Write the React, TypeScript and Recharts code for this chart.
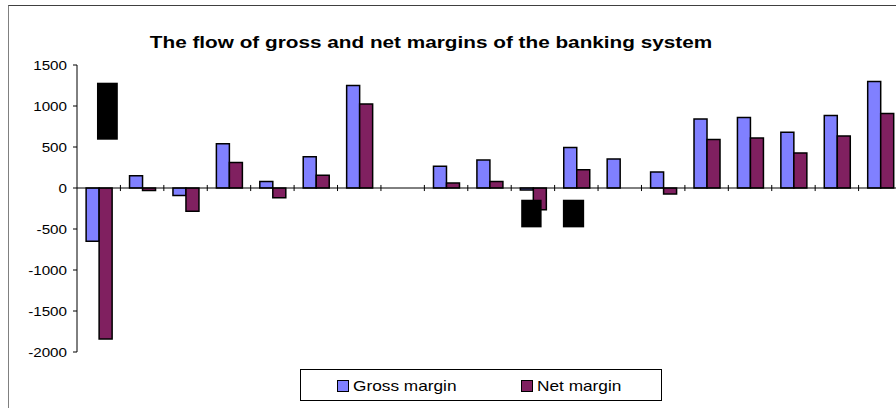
import { BarChart, Bar, XAxis, YAxis, ReferenceLine, ReferenceArea } from 'recharts';

const periods = ['1', '2', '3', '4', '5', '6', '7', '8', '9', '10', '11', '12', '13', '14', '15', '16', '17', '18', '19'];
const grossMargin = [-650, 150, -90, 540, 80, 380, 1250, null, 265, 340, -25, 495, 355, 195, 840, 860, 680, 885, 1300];
const netMargin = [-1840, -30, -285, 312, -120, 155, 1025, null, 60, 80, -265, 222, null, -72, 590, 610, 428, 635, 910];
const yTicks = [-2000, -1500, -1000, -500, 0, 500, 1000, 1500];

// black boxes pasted over the original picture: category, part of the band it covers, value range
const blackBoxes = [
    { period: '1', from: 0.46, to: 0.94, y1: 589, y2: 1284 },
    { period: '11', from: 0.23, to: 0.7, y1: -480, y2: -143 },
    { period: '12', from: 0.19, to: 0.68, y1: -480, y2: -143 },
];

const series = [
    { key: 'gross', name: 'Gross margin', color: '#8080FF' },
    { key: 'net', name: 'Net margin', color: '#802060' },
];

const data = periods.map((p, i) => ({ period: p, gross: grossMargin[i], net: netMargin[i] }));

const font = '"Liberation Sans", Arial, sans-serif';

const YTick = (props: any) => {
    const { x, y, payload } = props;
    return (
        <g transform={`translate(${x},${y})`}>
            <text transform="scale(1.17,1)" textAnchor="end" dy="0.355em" fontSize={13} fill="#000" fontFamily={font}>
                {payload.value}
            </text>
        </g>
    );
};

const partOfBand = (from: number, to: number) => (props: any) => {
    const { x, y, width, height } = props;
    return <rect x={x + width * from} y={y} width={width * (to - from)} height={height} fill="#000" />;
};

const App = () => {
    return (
        <div style={{ position: 'relative', width: 896, height: 408, overflow: 'hidden', background: '#fff', fontFamily: font }}>
            <style>{'body{margin:0}'}</style>
            <div style={{ position: 'absolute', left: 8, top: 5, width: 1000, height: 500, borderLeft: '1px solid #808080', borderTop: '1px solid #404040' }} />
            <div style={{
                position: 'absolute', left: 431, top: 34, whiteSpace: 'nowrap', fontSize: 17, lineHeight: '17px',
                fontWeight: 'bold', color: '#000', transform: 'translateX(-50%) scaleX(1.22)',
            }}>
                The flow of gross and net margins of the banking system
            </div>
            <div style={{ position: 'absolute', left: 0, top: 0 }}>
                <BarChart
                    width={930}
                    height={408}
                    data={data}
                    margin={{ top: 65, right: 28, bottom: 56, left: 32 }}
                    barCategoryGap="21%"
                    barGap={0}
                >
                    <XAxis dataKey="period" hide />
                    <YAxis
                        width={45}
                        domain={[-2000, 1500]}
                        ticks={yTicks}
                        interval={0}
                        tickSize={4}
                        tickMargin={6}
                        axisLine={{ stroke: '#000' }}
                        tickLine={{ stroke: '#000' }}
                        tick={<YTick />}
                    />
                    {series.map(s => (
                        <Bar key={s.key} dataKey={s.key} name={s.name} fill={s.color} stroke="#000" strokeWidth={1.5} isAnimationActive={false} />
                    ))}
                    <ReferenceLine y={0} stroke="#000" strokeWidth={1} />
                    {periods.slice(1).map(p => (
                        <ReferenceLine key={p} position="start" segment={[{ x: p, y: -37 }, { x: p, y: 37 }]} stroke="#000" strokeWidth={1} ifOverflow="visible" />
                    ))}
                    {blackBoxes.map((b, i) => (
                        <ReferenceArea key={i} x1={b.period} x2={b.period} y1={b.y1} y2={b.y2} shape={partOfBand(b.from, b.to)} zIndex={1000} />
                    ))}
                </BarChart>
            </div>
            <div style={{ position: 'absolute', left: 300, top: 369, width: 360, height: 30, border: '1px solid #000' }}>
                {series.map((s, i) => (
                    <div key={s.key} style={{ position: 'absolute', left: i === 0 ? 36 : 220, top: 8, display: 'flex', alignItems: 'center' }}>
                        <div style={{ width: 10, height: 10, background: s.color, border: '1px solid #000' }} />
                        <div style={{ marginLeft: 4, fontSize: 15, lineHeight: '15px', transform: 'scaleX(1.15)', transformOrigin: 'left center', whiteSpace: 'nowrap' }}>
                            {s.name}
                        </div>
                    </div>
                ))}
            </div>
        </div>
    );
};

export default App;
